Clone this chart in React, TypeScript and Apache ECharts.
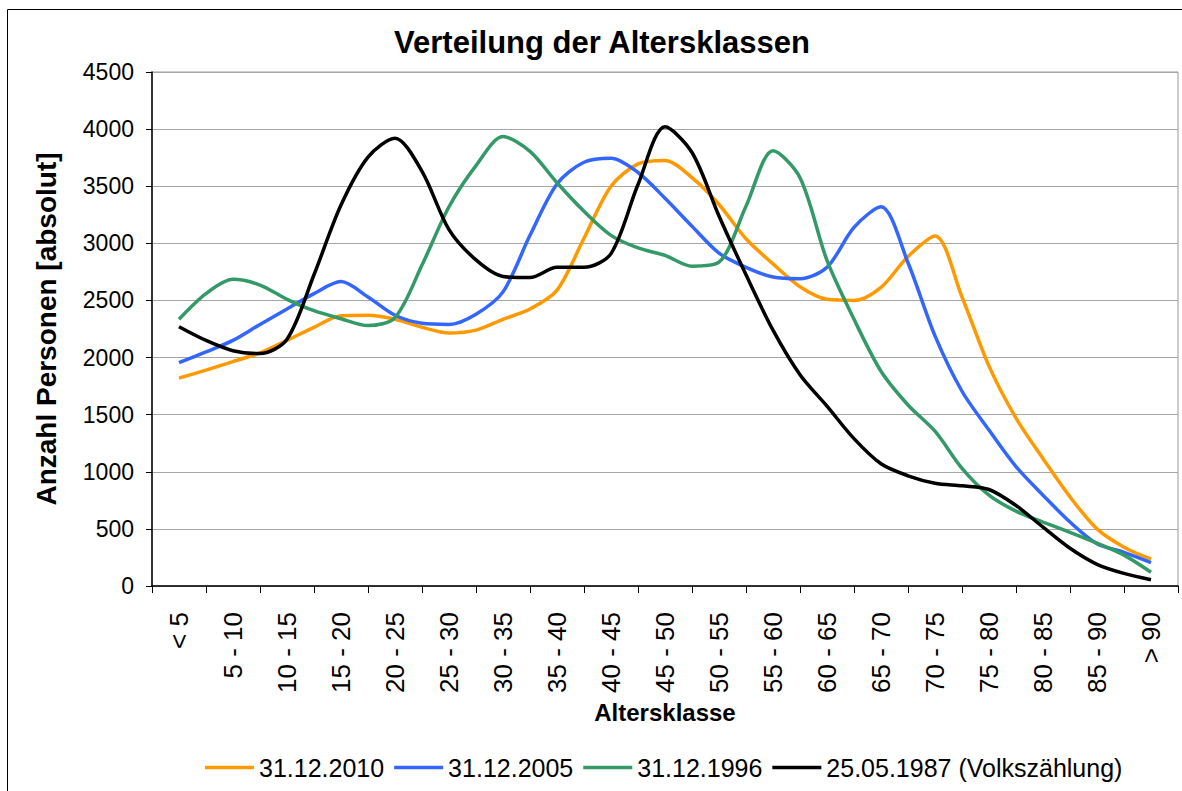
import React, { useEffect, useRef } from "react";
import * as echarts from "echarts";

// Category labels of the x axis
const ageClasses = [
  "< 5", "5 - 10", "10 - 15", "15 - 20", "20 - 25", "25 - 30", "30 - 35",
  "35 - 40", "40 - 45", "45 - 50", "50 - 55", "55 - 60", "60 - 65",
  "65 - 70", "70 - 75", "75 - 80", "80 - 85", "85 - 90", "> 90",
];

// Values read every half age class, from the centre of "< 5" to the centre of "> 90"
const values2010 = [
  1820, 1890, 1965, 2040, 2150, 2265, 2365, 2370, 2335, 2265, 2215, 2240, 2335,
  2425, 2590, 3045, 3500, 3695, 3725, 3575, 3340, 3040, 2820, 2620, 2510, 2500,
  2615, 2885, 3065, 2530, 1925, 1470, 1115, 780, 500, 340, 235,
];
const values2005 = [
  1955, 2050, 2150, 2290, 2425, 2560, 2665, 2530, 2370, 2300, 2290, 2380, 2575,
  3070, 3520, 3710, 3745, 3620, 3395, 3150, 2915, 2790, 2705, 2690, 2790, 3140,
  3320, 2830, 2190, 1705, 1365, 1045, 795, 560, 370, 295, 205,
];
const values1996 = [
  2335, 2560, 2685, 2635, 2510, 2410, 2340, 2280, 2350, 2810, 3320, 3680, 3935,
  3805, 3530, 3280, 3070, 2960, 2895, 2800, 2835, 3325, 3810, 3575, 2850, 2335,
  1880, 1585, 1355, 1030, 795, 655, 560, 470, 375, 270, 120,
];
const values1987 = [
  2270, 2150, 2060, 2035, 2160, 2725, 3335, 3755, 3920, 3630, 3120, 2855, 2710,
  2700, 2790, 2790, 2910, 3515, 4020, 3795, 3240, 2725, 2240, 1850, 1575, 1290,
  1070, 965, 900, 877, 845, 705, 515, 330, 190, 110, 55,
];

const seriesNames = [
  "31.12.2010",
  "31.12.2005",
  "31.12.1996",
  "25.05.1987 (Volkszählung)",
];
const seriesColors = ["#FF9900", "#3366FF", "#339966", "#000000"];
const seriesValues = [values2010, values2005, values1996, values1987];

const yMin = 0;
const yMax = 4500;
const yInterval = 500;

const FONT = "'Liberation Sans', Arial, sans-serif";

export default function App() {
  const ref = useRef<HTMLDivElement>(null);

  useEffect(() => {
    if (!ref.current) return;
    const chart = echarts.init(ref.current, null, { renderer: "svg" });
    const toPoints = (vals: number[]) => vals.map((v, i) => [i + 1, v]);

    chart.setOption({
      animation: false,
      backgroundColor: "#ffffff",
      textStyle: { fontFamily: FONT, color: "#000" },
      title: {
        text: "Verteilung der Altersklassen",
        left: 597,
        textAlign: "center",
        top: 22,
        textStyle: { fontFamily: FONT, fontSize: 31, fontWeight: "bold", color: "#000" },
      },
      graphic: [
        {
          type: "rect",
          shape: { x: 7.5, y: 9.5, width: 1200, height: 800 },
          style: { fill: "none", stroke: "#000", lineWidth: 1 },
          silent: true,
          z: -1,
        },
      ],
      legend: {
        left: 200,
        top: 750,
        icon: "rect",
        itemWidth: 49,
        itemHeight: 3.5,
        itemGap: 10,
        textStyle: { fontFamily: FONT, fontSize: 25, color: "#000" },
        data: seriesNames,
      },
      grid: {
        left: 152,
        top: 72,
        right: 4,
        bottom: 205,
        show: true,
        borderColor: "#999",
        borderWidth: 1,
        backgroundColor: "#fff",
      },
      xAxis: [
        {
          type: "category",
          data: ageClasses,
          boundaryGap: true,
          name: "Altersklasse",
          nameLocation: "middle",
          nameGap: 114,
          nameTextStyle: { fontFamily: FONT, fontSize: 24, fontWeight: "bold", color: "#000" },
          axisLine: { lineStyle: { color: "#000", width: 1.5 } },
          axisTick: { show: true, length: 7, lineStyle: { color: "#000" } },
          axisLabel: {
            rotate: 90,
            interval: 0,
            margin: 26,
            fontSize: 26,
            color: "#000",
            fontFamily: FONT,
          },
          splitLine: { show: false },
        },
        {
          type: "value",
          min: 0,
          max: ageClasses.length * 2,
          show: false,
          splitLine: { show: false },
        },
      ],
      yAxis: {
        type: "value",
        min: yMin,
        max: yMax,
        interval: yInterval,
        name: "Anzahl Personen [absolut]",
        nameLocation: "middle",
        nameRotate: 90,
        nameGap: 92,
        nameTextStyle: { fontFamily: FONT, fontSize: 28, fontWeight: "bold", color: "#000" },
        axisLine: { show: true, lineStyle: { color: "#000", width: 1.5 } },
        axisTick: { show: true, length: 6, lineStyle: { color: "#000" } },
        axisLabel: {
          fontSize: 23,
          margin: 18,
          color: "#000",
          fontFamily: FONT,
          formatter: (v: number) => String(v),
        },
        splitLine: { show: true, lineStyle: { color: "#a6a6a6", width: 1 } },
      },
      series: seriesNames.map((name, k) => ({
        name,
        type: "line",
        xAxisIndex: 1,
        data: toPoints(seriesValues[k]),
        smooth: 0.3,
        symbol: "none",
        color: seriesColors[k],
        itemStyle: { color: seriesColors[k] },
        lineStyle: { color: seriesColors[k], width: 3.5 },
      })),
    });

    return () => chart.dispose();
  }, []);

  return (
    <div
      ref={ref}
      style={{ position: "fixed", left: 0, top: 0, width: 1182, height: 791, background: "#fff" }}
    />
  );
}
